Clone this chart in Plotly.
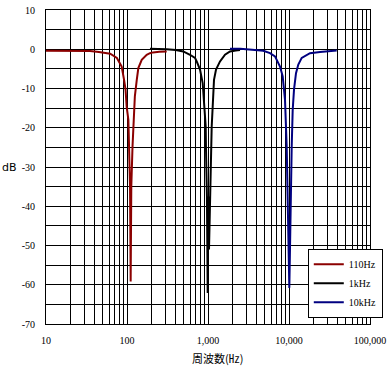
import plotly.graph_objects as go

# ---- data ----
freq_110 = [10, 20, 35, 45, 62, 75, 86, 92, 96, 99, 104, 106, 109, 111, 113, 117, 120, 125, 132, 138, 152, 175, 192, 210, 250, 309]
db_110 = [-0.4, -0.4, -0.45, -0.7, -1.15, -2.2, -4.4, -7.8, -10.3, -14.6, -18, -24.8, -35, -59.2, -35, -24.8, -18, -12, -7.8, -4.8, -2.7, -1.4, -1.0, -0.8, -0.65, -0.6]

freq_1k = [192, 250, 309, 400, 495, 600, 691, 725, 797, 860, 893, 937, 944, 970, 991, 1010, 1029, 1060, 1080, 1111, 1143, 1186, 1256, 1407, 1622, 1869, 2200, 2484]
db_1k = [0.1, 0.1, 0.0, -0.2, -0.55, -1.4, -2.2, -3.1, -5.2, -8.6, -14.6, -19.7, -24.8, -37.5, -62.1, -37.5, -51, -37.5, -24.8, -19.7, -14.6, -7.8, -5.2, -3.1, -1.4, -0.55, -0.3, -0.2]

freq_10k = [1869, 2500, 3500, 4820, 5826, 6714, 7051, 7745, 8360, 8927, 9370, 9600, 9800, 10090, 10300, 10500, 10800, 11110, 11530, 12200, 13030, 14350, 16550, 18160, 24150, 38800]
db_10k = [0.1, 0.1, -0.1, -0.4, -1.0, -1.8, -2.7, -4.4, -6.9, -12.9, -24.8, -35, -50.2, -60.8, -50.2, -35, -24.8, -15.4, -10.3, -6.1, -3.9, -2.2, -1.4, -1.0, -0.7, -0.3]

series_names = ["110Hz", "1kHz", "10kHz"]
series_colors = ["#8b0000", "#000000", "#000080"]

x_decades = [10, 100, 1000, 10000, 100000]
x_decade_labels = ["10", "100", "1,000", "10,000", "100,000"]
y_ticks = list(range(-70, 11, 5))
y_labels = [str(v) if v % 10 == 0 else "" for v in y_ticks]

# grid positions for log axis (1..9 in each decade)
x_tickvals = []
x_ticktext = []
for d, lab in zip(x_decades, x_decade_labels):
    x_tickvals.append(d)
    x_ticktext.append(lab)
    if d < 100000:
        for m in range(2, 10):
            x_tickvals.append(d * m)
            x_ticktext.append("")

fig = go.Figure()
for fx, fy, name, col in zip([freq_110, freq_1k, freq_10k], [db_110, db_1k, db_10k], series_names, series_colors):
    fig.add_trace(go.Scatter(x=fx, y=fy, mode="lines", name=name,
                             line=dict(color=col, width=2)))

serif = "Liberation Serif, Times New Roman, serif"

fig.update_layout(
    width=389, height=368,
    margin=dict(l=46, r=19, t=10, b=44, autoexpand=False),
    paper_bgcolor="white", plot_bgcolor="white",
    showlegend=True,
    legend=dict(x=0.808, y=0.24, xanchor="left", yanchor="top",
                bgcolor="white", bordercolor="black", borderwidth=1,
                font=dict(family=serif, size=10, color="black"),
                itemwidth=30, tracegroupgap=0),
    xaxis=dict(type="log", range=[1, 5], tickvals=x_tickvals, ticktext=x_ticktext,
               showgrid=True, gridcolor="black", gridwidth=1,
               showline=True, linecolor="black", linewidth=1, mirror=True,
               ticks="", tickfont=dict(family=serif, size=10, color="black"),
               ticklabelstandoff=7, zeroline=False, automargin=False),
    yaxis=dict(range=[-70, 10], tickvals=y_ticks, ticktext=y_labels,
               showgrid=True, gridcolor="black", gridwidth=1,
               showline=True, linecolor="black", linewidth=1, mirror=True,
               ticks="", tickfont=dict(family=serif, size=10, color="black"),
               ticklabelstandoff=8, zeroline=False, automargin=False),
    annotations=[
        dict(text="dB", xref="paper", yref="y", x=0, y=-30, xanchor="right", yanchor="middle",
             xshift=-27, showarrow=False, font=dict(family="DejaVu Sans, sans-serif", size=11, color="black")),
        dict(text="周波数(㎐)", xref="paper", yref="paper", x=0.528, y=-0.107, xanchor="center", yanchor="middle",
             showarrow=False, font=dict(family="Noto Sans CJK JP, sans-serif", size=11, color="black")),
    ],
)

fig.write_html("out.html", config={"displayModeBar": False},
               post_script="document.body.style.margin='0';document.body.style.padding='0';document.body.style.overflow='hidden';")
